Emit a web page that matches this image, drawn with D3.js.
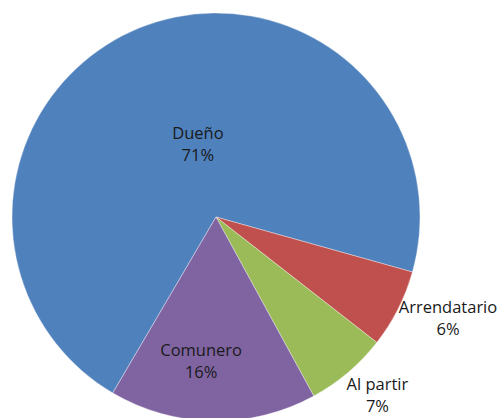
<!DOCTYPE html>
<html>
<head>
<meta charset="utf-8">
<script src="https://cdn.jsdelivr.net/npm/d3@7"></script>
<style>
  body { margin: 0; background: #fff; }
</style>
</head>
<body>
<script>
var categories = ["Dueño", "Arrendatario", "Al partir", "Comunero"];
var values = [70.9, 6.2, 6.5, 16.4];
var colors = ["#4F81BD", "#C0504D", "#9BBB59", "#8064A2"];

var width = 498, height = 418;
var cx = 216, cy = 217, radius = 204;
var startDeg = 210.4;

// label placement tweaks (radius factor, angle nudge in degrees)
var labelTweak = {
    "Dueño": { rf: 0.368, da: 8 },
    "Arrendatario": { rf: 1.24, da: -3.3 },
    "Al partir": { rf: 1.177, da: -1.9 },
    "Comunero": { rf: 0.71, da: 5 }
};

var data = categories.map(function (c, i) {
    return { name: c, value: values[i], color: colors[i] };
});
var total = d3.sum(values);

var svg = d3.select("body").append("svg")
    .attr("width", width).attr("height", height);

var g = svg.append("g").attr("transform", "translate(" + cx + "," + cy + ")");

var pie = d3.pie()
    .sort(null)
    .value(function (d) { return d.value; })
    .startAngle(startDeg * Math.PI / 180)
    .endAngle(startDeg * Math.PI / 180 + 2 * Math.PI);

var arc = d3.arc().innerRadius(0).outerRadius(radius);
var arcs = pie(data);

g.selectAll("path")
    .data(arcs)
    .enter()
    .append("path")
    .attr("d", arc)
    .attr("fill", function (d) { return d.data.color; })
    .attr("stroke", "#ffffff")
    .attr("stroke-width", 0.6)
    .attr("stroke-opacity", 0.6);

var labels = g.selectAll("text.lbl")
    .data(arcs)
    .enter()
    .append("text")
    .attr("class", "lbl")
    .attr("text-anchor", "middle")
    .attr("font-family", "'Open Sans', sans-serif")
    .attr("font-size", "16.5px")
    .attr("fill", "#1a1a1a")
    .attr("transform", function (d) {
        var t = labelTweak[d.data.name];
        var a = (d.startAngle + d.endAngle) / 2 + t.da * Math.PI / 180;
        var r = radius * t.rf;
        return "translate(" + (r * Math.sin(a)) + "," + (-r * Math.cos(a)) + ")";
    });

labels.append("tspan")
    .attr("x", 0).attr("y", -5)
    .text(function (d) { return d.data.name; });

labels.append("tspan")
    .attr("x", 0).attr("y", 17)
    .text(function (d) { return Math.round(d.data.value / total * 100) + "%"; });
</script>
</body>
</html>
